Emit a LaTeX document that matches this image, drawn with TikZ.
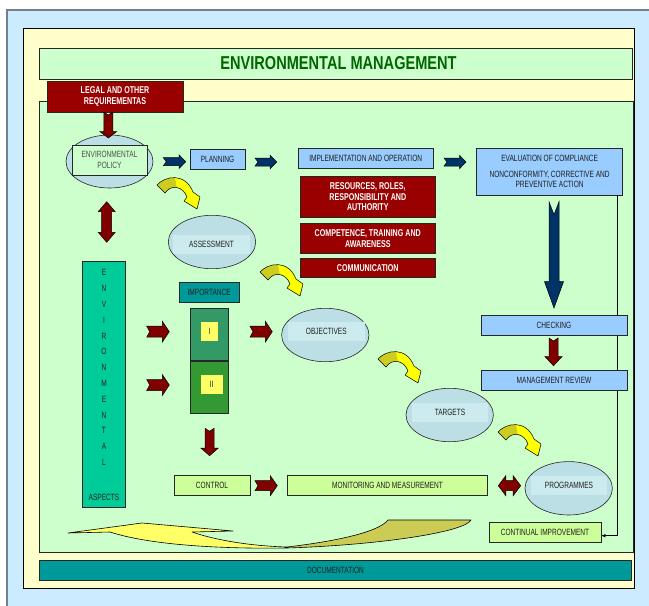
\documentclass[tikz,border=0pt]{standalone}
\usepackage{fontspec}
\setmainfont{Liberation Sans}[FakeStretch=0.72]
\newfontfamily\ttlfont{Liberation Sans}[FakeStretch=0.78]
\usetikzlibrary{shapes.geometric,arrows.meta}
\definecolor{bgblue}{HTML}{CCEBFF}
\definecolor{cream}{HTML}{FFFFCC}
\definecolor{pale}{HTML}{CCFFCC}
\definecolor{dred}{HTML}{990000}
\definecolor{ared}{HTML}{800000}
\definecolor{lblue}{HTML}{99CCFF}
\definecolor{navyc}{HTML}{003366}
\definecolor{tealc}{HTML}{009999}
\definecolor{aspc}{HTML}{00CC99}
\definecolor{gI}{HTML}{339966}
\definecolor{gII}{HTML}{339933}
\definecolor{labc}{HTML}{FFFF66}
\definecolor{limec}{HTML}{CCFF99}
\definecolor{ellc}{HTML}{BBDFE4}
\definecolor{inc}{HTML}{CCEBEF}
\definecolor{txt}{HTML}{1E1E1E}
\definecolor{ttl}{HTML}{006600}
\definecolor{yel}{HTML}{FFFF00}
\definecolor{olv}{HTML}{CCCC22}
\definecolor{byel}{HTML}{FFFF66}
\definecolor{bolv}{HTML}{CCCC55}
\definecolor{framec}{HTML}{708090}
% block arrow: style, origin, rotation, length, shaft half, head half, head length, notch
\newcommand\blkarr[8]{\path[#1,shift={#2},rotate=#3] (0,-#5) -- ({#4-#7},-#5) -- ({#4-#7},-#6) -- (#4,0) -- ({#4-#7},#6) -- ({#4-#7},#5) -- (0,#5) -- (#8,0) -- cycle;}
% double arrow: style, origin, rotation, length, shaft half, head half, head length
\newcommand\dblarr[7]{\path[#1,shift={#2},rotate=#3] (0,0) -- (#7,-#6) -- (#7,-#5) -- ({#4-#7},-#5) -- ({#4-#7},-#6) -- (#4,0) -- ({#4-#7},#6) -- ({#4-#7},#5) -- (#7,#5) -- (#7,#6) -- cycle;}
\begin{document}
\begin{tikzpicture}[x=1pt,y=-1pt,
  txtf/.style={font=\fontsize{9.1}{10.5}\selectfont},
  bx/.style={draw=black!85, line width=0.6pt, inner sep=0pt, text=txt, align=center, txtf},
  bluebx/.style={bx, fill=lblue},
  redbx/.style={bx, fill=dred, text=white, font=\bfseries\fontsize{9.9}{10.5}\selectfont},
  limebx/.style={bx, fill=limec},
  ell/.style={ellipse, draw=black!85, line width=0.6pt, fill=ellc, inner sep=0pt, minimum width=87.4pt, minimum height=53.4pt},
  inr/.style={fill=inc, inner sep=0pt, text=txt, txtf, minimum width=76.5pt, minimum height=19.3pt},
  redarr/.style={fill=ared, draw=black, line width=0.5pt},
  bluearr/.style={fill=navyc, draw=black, line width=0.5pt},
  ltr/.style={txtf, text=txt, inner sep=0pt},
  curv/.pic={
    \path[fill=yel] (0,9) .. controls (8,0) and (28,-4) .. (36,16) -- (43,21) -- (40,33) -- (27,25) -- (30,21) .. controls (26,10) and (14,8) .. (8,17) -- cycle;
    \path[fill=olv] (0,9) .. controls (4,4.5) and (11,1.25) .. (18,1.625) -- (19.75,11.5) .. controls (15.5,10.75) and (11,12.5) .. (8,17) -- cycle;
    \path[draw=black, line width=0.5pt, line join=round] (0,9) .. controls (8,0) and (28,-4) .. (36,16) -- (43,21) -- (40,33) -- (27,25) -- (30,21) .. controls (26,10) and (14,8) .. (8,17) -- cycle;
  }]
\useasboundingbox (0,0) rectangle (649,606);
\fill[white] (0,0) rectangle (649,606);
\fill[bgblue] (7,10) rectangle (652,609);
\draw[framec, line width=1.2pt] (7,609) -- (7,10) -- (652,10);
\draw[fill=cream, line width=0.8pt] (23,28) rectangle (634,588);
\node[draw=black!85, line width=0.6pt, fill=pale, minimum width=593pt, minimum height=31pt, inner sep=0pt, font=\ttlfont\bfseries\fontsize{18.7}{22}\selectfont, text=ttl] (title) at (335.5,63.5) {\hspace{6pt}ENVIRONMENTAL MANAGEMENT};
\draw[fill=pale, line width=0.6pt, draw=black!85] (39,101) rectangle (633,552);

% bottom curved arrow
\path[fill=byel] (68,533) -- (142,523) -- (233,531) -- (192,532) .. controls (215,540) and (250,546) .. (287,547.5) .. controls (220,549) and (150,545) .. (110,532) -- cycle;
\path[fill=bolv] (287,547) .. controls (330,542) and (378,533) .. (388,520) -- (471,520) .. controls (465,532) and (380,545) .. (287,548) -- cycle;
\draw[line width=0.6pt, line join=round] (192,532) -- (233,531) -- (142,523) -- (68,533) -- (110,532) .. controls (150,545) and (220,549) .. (287,548) .. controls (380,545) and (465,532) .. (471,520) -- (388,520) .. controls (378,533) and (330,542) .. (287,547) .. controls (250,546) and (215,540) .. (192,532);

\node[redbx, minimum width=136pt, minimum height=31pt] (legal) at (115,96.5) {LEGAL AND OTHER\\REQUIREMENTAS};

\node[ell, minimum width=87pt, minimum height=53pt] (policy) at (109.5,161.5) {};
\node[bx, fill=pale, minimum width=75pt, minimum height=30pt, text=black!70] (policyt) at (109.5,160) {ENVIRONMENTAL\\POLICY};

\node[bluebx, minimum width=55pt, minimum height=20pt] (planning) at (217.5,159) {PLANNING};
\node[bluebx, minimum width=135.5pt, minimum height=20pt] (impl) at (365.7,158) {IMPLEMENTATION AND OPERATION};
\node[bluebx, minimum width=146pt, minimum height=47pt] (eval) at (549.6,171.5) {EVALUATION OF COMPLIANCE\\[5.5pt]NONCONFORMITY, CORRECTIVE AND\\PREVENTIVE ACTION};

\node[redbx, minimum width=135.7pt, minimum height=40.6pt] (res) at (367.8,197) {RESOURCES, ROLES,\\RESPONSIBILITY AND\\AUTHORITY};
\node[redbx, minimum width=135.7pt, minimum height=29.6pt] (comp) at (367.8,238.5) {COMPETENCE, TRAINING AND\\AWARENESS};
\node[redbx, minimum width=135.7pt, minimum height=19pt] (comm) at (367.8,267.8) {COMMUNICATION};

\node[limebx, minimum width=112pt, minimum height=19.6pt] (ci) at (545,532.5) {CONTINUAL IMPROVEMENT};
\coordinate (cx) at (617,0);
\draw[line width=0.6pt, -{Latex[length=4pt,width=3.5pt]}] (eval.south -| cx) |- ([yshift=-3.2pt]ci.east);

\node[bluebx, minimum width=146pt, minimum height=19.6pt] (check) at (554,325.5) {CHECKING};
\node[bluebx, minimum width=146pt, minimum height=20.4pt] (review) at (554,380.5) {MANAGEMENT REVIEW};

\node[ell] (assess) at (212,242) {};
\node[inr, minimum width=77pt] (assesst) at (211.5,244.5) {ASSESSMENT};
\node[ell] (obj) at (325.3,335) {};
\node[inr] (objt) at (326.3,331.3) {OBJECTIVES};
\node[ell] (targ) at (449.7,415) {};
\node[inr] (targt) at (450,412.3) {TARGETS};
\node[ell] (prog) at (568.7,488.3) {};
\node[inr] (progt) at (569,485.3) {PROGRAMMES};

\node[bx, fill=aspc, minimum width=43.4pt, minimum height=245.6pt] (aspects) at (104,384.5) {};
\foreach \l [count=\i] in {E,N,V,I,R,O,N,M,E,N,T,A,L}
  \node[ltr] (asp\i) at (104,{272.7+15.8*(\i-1)}) {\l};
\node[ltr] (aspt) at (104,497.7) {ASPECTS};

\node[bx, fill=tealc, minimum width=60.3pt, minimum height=20pt] (imp) at (209.2,292.7) {IMPORTANCE};
\node[bx, fill=gI, minimum width=38.7pt, minimum height=52pt] (boxI) at (209.3,334.7) {};
\node[bx, fill=gII, minimum width=38.7pt, minimum height=52pt] (boxII) at (209.3,387.7) {};
\node[fill=labc, inner sep=0pt, minimum width=17pt, minimum height=19pt, txtf, text=txt] (labI) at (209.5,331.5) {I};
\node[fill=labc, inner sep=0pt, minimum width=21.7pt, minimum height=19pt, txtf, text=txt] (labII) at (211.8,384.5) {II};

\node[limebx, minimum width=76pt, minimum height=20pt] (control) at (212,485.7) {CONTROL};
\node[limebx, minimum width=200.4pt, minimum height=20pt] (monit) at (387.5,485) {MONITORING AND MEASUREMENT};

\node[bx, fill=tealc, minimum width=592.4pt, minimum height=20pt] (doc) at (335.5,570) {DOCUMENTATION};

% block arrows
\blkarr{redarr}{(108.3,112)}{-90}{26}{4.5}{8.5}{6.5}{3}
\blkarr{bluearr}{(163.3,161.7)}{0}{22.4}{4}{6.7}{6.5}{3}
\blkarr{bluearr}{(255,162)}{0}{21.7}{4}{6.7}{6.5}{3}
\blkarr{bluearr}{(444,162)}{0}{22}{4}{6.7}{6.5}{3}
\blkarr{bluearr}{(554,201.7)}{-90}{106.3}{5}{9.5}{26.3}{13}
\blkarr{redarr}{(553.5,338)}{-90}{27.7}{4.5}{8.5}{9}{3}
\blkarr{redarr}{(146.7,331.7)}{0}{22.6}{5.5}{10.5}{7}{3}
\blkarr{redarr}{(146.7,385)}{0}{22.6}{5.5}{10.5}{7}{3}
\blkarr{redarr}{(250,331.7)}{0}{22.3}{5.5}{10.5}{7}{3}
\blkarr{redarr}{(209.6,428.3)}{-90}{27.4}{4.5}{8.6}{7.5}{3}
\blkarr{redarr}{(255,485.7)}{0}{22.3}{5}{10}{7}{3}
\dblarr{redarr}{(106.7,201.7)}{-90}{40.6}{5}{8.5}{10}
\dblarr{redarr}{(498.3,485.7)}{0}{22.4}{5}{10}{7.5}

% curved yellow arrows
\pic at (157,176) {curv};
\pic at (260,263) {curv};
\pic at (378,350) {curv};
\pic at (498,423) {curv};
\end{tikzpicture}
\end{document}
